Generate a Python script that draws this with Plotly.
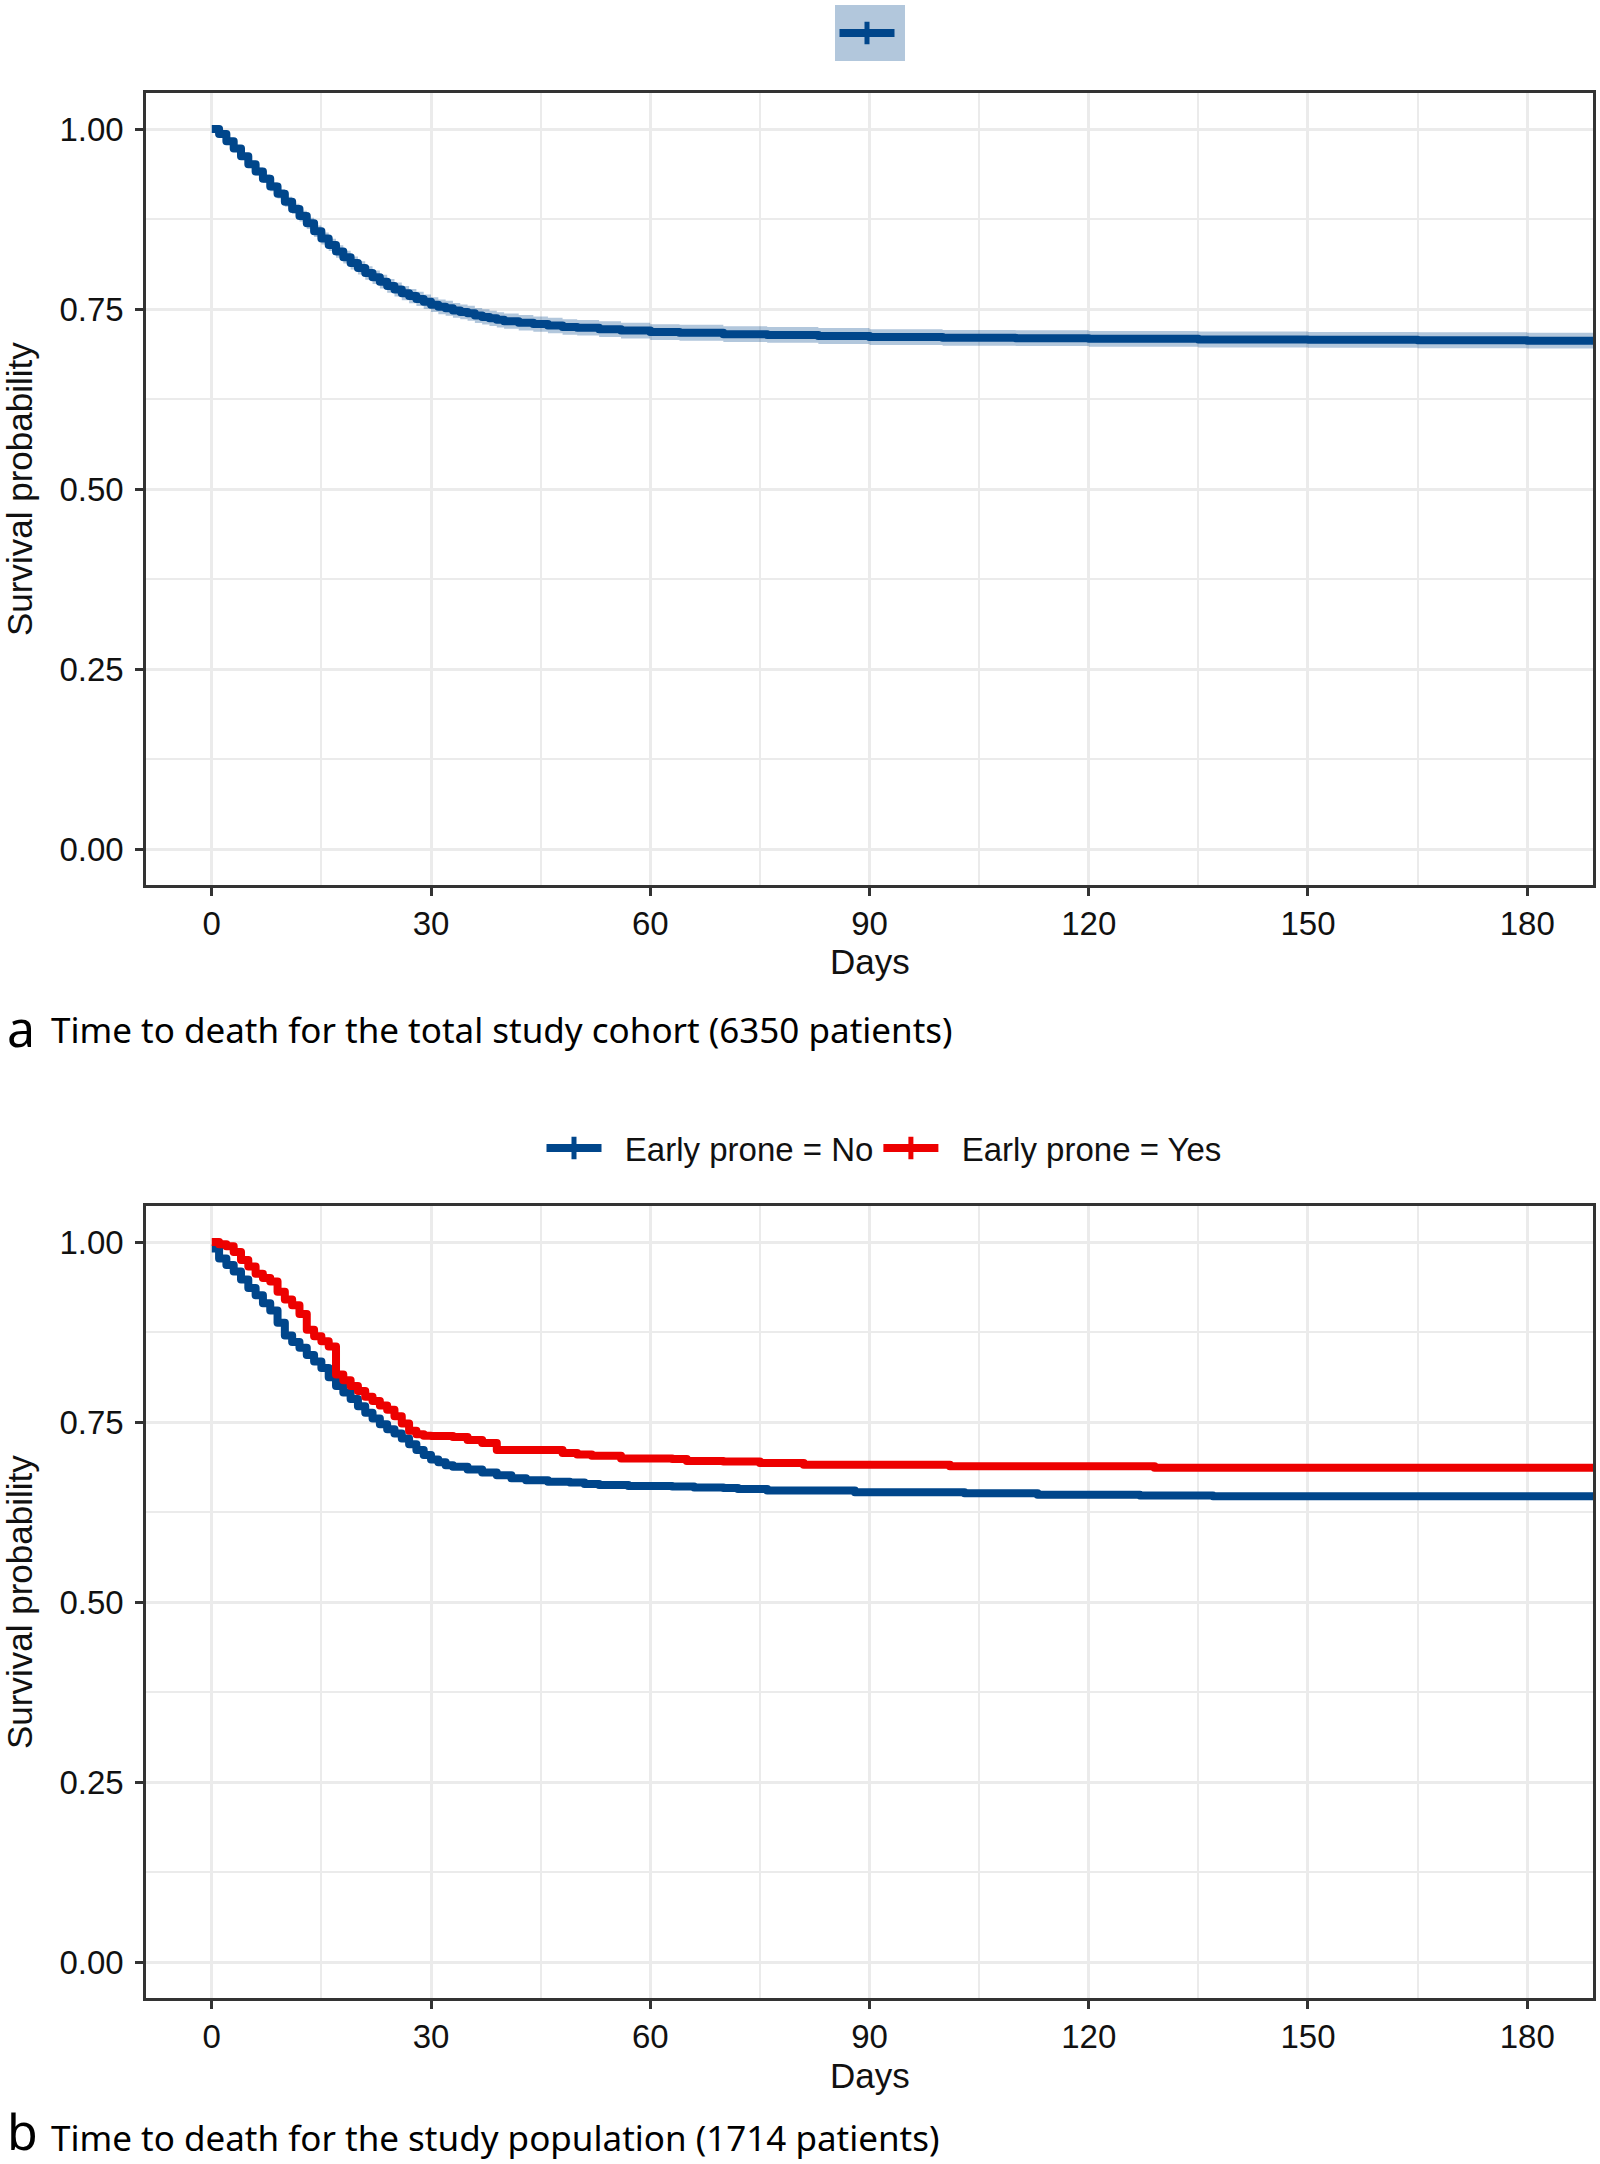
import plotly.graph_objects as go

# ---------------- data ----------------
days_a = [0, 1, 2, 3, 4, 5, 6, 7, 8, 9, 10, 11, 12, 13, 14, 15, 16, 17, 18, 19, 20,
          21, 22, 23, 24, 25, 26, 27, 28, 29, 30, 31, 32, 33, 34, 35, 36, 37, 38, 39, 40,
          42, 44, 46, 48, 50, 53, 56, 60, 64, 70, 76, 83, 90, 100, 110, 120, 135, 150,
          165, 180, 190]
surv_a = [1.000, 0.993, 0.983, 0.973, 0.962, 0.951, 0.941, 0.931, 0.920, 0.910, 0.899,
          0.889, 0.879, 0.869, 0.858, 0.848, 0.839, 0.830, 0.822, 0.814, 0.807,
          0.800, 0.794, 0.788, 0.782, 0.777, 0.772, 0.768, 0.764, 0.760, 0.756,
          0.753, 0.751, 0.748, 0.746, 0.744, 0.741, 0.739, 0.737, 0.735, 0.733,
          0.731, 0.729, 0.727, 0.725, 0.724, 0.722, 0.720, 0.718, 0.717, 0.715,
          0.714, 0.7125, 0.711, 0.710, 0.7095, 0.7086, 0.7076, 0.7072, 0.7066, 0.706, 0.7055]
ci_a = [0.000, 0.002, 0.003, 0.004, 0.0045, 0.005, 0.0055, 0.006, 0.0063, 0.0066, 0.007,
        0.0072, 0.0075, 0.0078, 0.008, 0.0083, 0.0085, 0.0087, 0.0089, 0.009, 0.0092,
        0.0093, 0.0094, 0.0095, 0.0096, 0.0097, 0.0098, 0.0099, 0.0100, 0.0101, 0.0102,
        0.0102, 0.0103, 0.0103, 0.0104, 0.0104, 0.0105, 0.0105, 0.0105, 0.0106, 0.0106,
        0.0107, 0.0107, 0.0108, 0.0108, 0.0108, 0.0109, 0.0109, 0.0109, 0.011, 0.011,
        0.011, 0.011, 0.011, 0.011, 0.011, 0.011, 0.011, 0.011, 0.011, 0.011, 0.011]

days_no = [0, 1, 2, 3, 4, 5, 6, 7, 8, 9, 10, 11, 12, 13, 14, 15, 16, 17, 18, 19, 20,
           21, 22, 23, 24, 25, 26, 27, 28, 29, 30, 31, 32, 33, 35, 37, 39, 41, 43, 46,
           49, 51, 53, 57, 63, 66, 70, 72, 76, 88, 103, 113, 127, 137, 190]
surv_no = [0.991, 0.977, 0.968, 0.959, 0.948, 0.936, 0.926, 0.915, 0.905, 0.888, 0.870,
           0.861, 0.853, 0.843, 0.834, 0.825, 0.812, 0.800, 0.791, 0.782, 0.772,
           0.763, 0.755, 0.747, 0.740, 0.734, 0.727, 0.719, 0.711, 0.704, 0.698,
           0.694, 0.690, 0.688, 0.684, 0.680, 0.676, 0.672, 0.669, 0.667,
           0.666, 0.664, 0.6626, 0.661, 0.6605, 0.659, 0.6584, 0.657, 0.6547, 0.6525,
           0.651, 0.6488, 0.6478, 0.647, 0.647]

days_yes = [0, 1, 2, 3, 4, 5, 6, 7, 8, 9, 10, 11, 12, 13, 14, 15, 16, 17, 18, 19, 20,
            21, 22, 23, 24, 25, 26, 27, 28, 29, 30, 33, 35, 37, 39, 48, 50, 52, 56, 63,
            65, 70, 75, 81, 101, 129, 190]
surv_yes = [1.000, 0.997, 0.994, 0.986, 0.975, 0.966, 0.956, 0.950, 0.945, 0.931, 0.920,
            0.912, 0.900, 0.878, 0.869, 0.862, 0.855, 0.816, 0.808, 0.800, 0.793,
            0.785, 0.779, 0.773, 0.767, 0.758, 0.748, 0.738, 0.733, 0.731, 0.7305,
            0.729, 0.725, 0.721, 0.711, 0.707, 0.705, 0.703, 0.6994, 0.6985,
            0.696, 0.6953, 0.693, 0.6906, 0.6884, 0.6865, 0.6865]

x_ticks = [0, 30, 60, 90, 120, 150, 180]
y_ticks = [0, 0.25, 0.5, 0.75, 1.0]
y_ticklabels = ["0.00", "0.25", "0.50", "0.75", "1.00"]

group_labels = ["Early prone = No", "Early prone = Yes"]
caption_a = "Time to death for the total study cohort (6350 patients)"
caption_b = "Time to death for the study population (1714 patients)"

# ---------------- style ----------------
BLUE = "#00468B"
RED = "#ED0000"
BAND = "rgba(0,70,139,0.3)"
W, H = 1600, 2164
TICKFONT = dict(family="Liberation Sans, Arial, sans-serif", size=33, color="#111111")
CAPFONT = "Noto Sans, Open Sans, sans-serif"
LW = 8
NB = "\u00a0\u00a0"


def fx(p):
    return p / W


def fy(p):
    return 1 - p / H


fig = go.Figure()

# Panel a
upper_a = [s + c for s, c in zip(surv_a, ci_a)]
lower_a = [s - c for s, c in zip(surv_a, ci_a)]
fig.add_trace(go.Scatter(x=days_a, y=upper_a, mode="lines", line=dict(width=0, shape="hv"),
                         showlegend=False, hoverinfo="skip", xaxis="x", yaxis="y"))
fig.add_trace(go.Scatter(x=days_a, y=lower_a, mode="lines", line=dict(width=0, shape="hv"),
                         fill="tonexty", fillcolor=BAND, showlegend=False, hoverinfo="skip",
                         xaxis="x", yaxis="y"))
fig.add_trace(go.Scatter(x=days_a, y=surv_a, mode="lines",
                         line=dict(color=BLUE, width=LW, shape="hv"),
                         showlegend=False, xaxis="x", yaxis="y"))
fig.add_trace(go.Scatter(x=[None], y=[None], mode="lines+markers", name="",
                         line=dict(color=BLUE, width=LW),
                         marker=dict(symbol="line-ns", size=26, color=BLUE,
                                     line=dict(width=5, color=BLUE)),
                         xaxis="x", yaxis="y", legend="legend"))

# Panel b
for days, surv, col, lab in [(days_no, surv_no, BLUE, group_labels[0]),
                             (days_yes, surv_yes, RED, group_labels[1])]:
    fig.add_trace(go.Scatter(x=days, y=surv, mode="lines",
                             line=dict(color=col, width=LW, shape="hv"),
                             showlegend=False, xaxis="x2", yaxis="y2"))
    fig.add_trace(go.Scatter(x=[None], y=[None], mode="lines+markers", name=NB + lab,
                             line=dict(color=col, width=LW),
                             marker=dict(symbol="line-ns", size=26, color=col,
                                         line=dict(width=5, color=col)),
                             xaxis="x2", yaxis="y2", legend="legend2"))

xdom = [fx(146), fx(1593)]
common_x = dict(range=[-9, 189], tickvals=x_ticks, ticktext=[str(v) for v in x_ticks],
                showgrid=True, gridcolor="#EBEBEB", gridwidth=3,
                minor=dict(dtick=15, tick0=0, showgrid=True, gridcolor="#EBEBEB", gridwidth=1.5),
                zeroline=False, showline=True, mirror=True, linecolor="#333333", linewidth=2.5,
                ticks="outside", ticklen=8, tickwidth=3, tickcolor="#333333",
                tickfont=TICKFONT, ticklabelstandoff=0, domain=xdom, fixedrange=True)
common_y = dict(range=[-0.05, 1.05], tickvals=y_ticks, ticktext=y_ticklabels,
                showgrid=True, gridcolor="#EBEBEB", gridwidth=3,
                minor=dict(dtick=0.125, tick0=0, showgrid=True, gridcolor="#EBEBEB", gridwidth=1.5),
                zeroline=False, showline=True, mirror=True, linecolor="#333333", linewidth=2.5,
                ticks="outside", ticklen=8, tickwidth=3, tickcolor="#333333",
                tickfont=TICKFONT, ticklabelstandoff=5, fixedrange=True)

fig.update_layout(
    width=W, height=H,
    margin=dict(l=0, r=0, t=0, b=0),
    paper_bgcolor="white", plot_bgcolor="white",
    showlegend=True,
    xaxis=dict(**common_x, anchor="y"),
    yaxis=dict(**common_y, domain=[fy(885), fy(93)], anchor="x"),
    xaxis2=dict(**common_x, anchor="y2"),
    yaxis2=dict(**common_y, domain=[fy(1998), fy(1206)], anchor="x2"),
    legend=dict(x=fx(869.5), y=fy(33), xanchor="center", yanchor="middle",
                bgcolor=BAND, font=dict(family="Liberation Sans, Arial", size=33, color="#111"),
                itemwidth=55, orientation="h"),
    legend2=dict(x=fx(884), y=fy(1148), xanchor="center", yanchor="middle",
                 orientation="h", bgcolor="rgba(0,0,0,0)", itemwidth=55,
                 font=dict(family="Liberation Sans, Arial", size=33, color="#111")),
)

annots = []
for yc in [489, 1602]:
    annots.append(dict(text="Survival probability", x=fx(19), y=fy(yc), xref="paper", yref="paper",
                       textangle=-90, showarrow=False, xanchor="center", yanchor="middle",
                       font=dict(family="Liberation Sans, Arial", size=35, color="#111")))
for yc in [962, 2075]:
    annots.append(dict(text="Days", x=fx(869.5), y=fy(yc), xref="paper", yref="paper",
                       showarrow=False, xanchor="center", yanchor="middle",
                       font=dict(family="Liberation Sans, Arial", size=35, color="#111")))
for letter, cap, yl, yc in [("a", caption_a, 1028, 1030), ("b", caption_b, 2131, 2137)]:
    annots.append(dict(text=letter, x=fx(5), y=fy(yl), xref="paper", yref="paper",
                       showarrow=False, xanchor="left", yanchor="middle",
                       font=dict(family=CAPFONT, size=50, color="#000")))
    annots.append(dict(text=cap, x=fx(49), y=fy(yc), xref="paper", yref="paper",
                       showarrow=False, xanchor="left", yanchor="middle",
                       font=dict(family=CAPFONT, size=35, color="#000")))
fig.update_layout(annotations=annots)

post = ("document.body.style.margin='0px';"
        "document.querySelectorAll('.js-line').forEach(function(p){"
        "p.style.strokeLinejoin='round';});")
fig.write_html("out.html", config={"displayModeBar": False}, post_script=post)
